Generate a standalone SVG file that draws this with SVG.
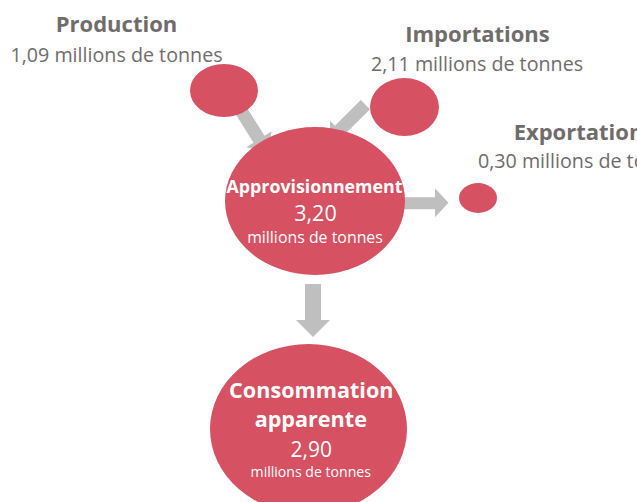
<svg xmlns="http://www.w3.org/2000/svg" width="637" height="502" viewBox="0 0 637 502">
  <style>
    .bubble { fill: #d65161; }
    .flow { fill: #bfbfbf; }
    .title { font-family: "Open Sans", "Liberation Sans", sans-serif; font-weight: 700; fill: #706c6c; font-size: 22px; text-anchor: middle; }
    .amount { font-family: "Open Sans", "Liberation Sans", sans-serif; fill: #706c6c; font-size: 19.7px; text-anchor: middle; }
    .inbold { font-family: "Open Sans", "Liberation Sans", sans-serif; font-weight: 700; fill: #ffffff; text-anchor: middle; }
    .innum { font-family: "Open Sans", "Liberation Sans", sans-serif; fill: #ffffff; text-anchor: middle; }
  </style>
  <rect width="637" height="502" fill="#ffffff"/>

  <!-- flow arrows, drawn first so the bubbles sit on top of their tails -->
  <g id="connectors">
    <polygon class="flow" transform="translate(267,152) rotate(58)" points="-56,-6.5 -15,-6.5 -15,-15 0,0 -15,15 -15,6.5 -56,6.5"/>
    <polygon class="flow" transform="translate(330,140) rotate(135)" points="-50,-6.5 -13.5,-6.5 -13.5,-13.5 0,0 -13.5,13.5 -13.5,6.5 -50,6.5"/>
    <polygon class="flow" points="400,197.3 435,197.3 435,188.3 448.5,202.8 435,217.3 435,209.3 400,209.3"/>
    <polygon class="flow" points="305,284 321,284 321,320 330,320 313,337 296,320 305,320"/>
  </g>

  <g id="production">
    <ellipse class="bubble" cx="224" cy="90.5" rx="34" ry="26.5"/>
    <text class="title" x="116.5" y="32">Production</text>
    <text class="amount" x="116.5" y="61.5">1,09 millions de tonnes</text>
  </g>

  <g id="importations">
    <ellipse class="bubble" cx="404.5" cy="107" rx="34.5" ry="29"/>
    <text class="title" x="477.5" y="41.5">Importations</text>
    <text class="amount" x="477" y="70.5">2,11 millions de tonnes</text>
  </g>

  <g id="exportations">
    <ellipse class="bubble" cx="478" cy="198" rx="19" ry="15"/>
    <text class="title" x="584" y="140">Exportations</text>
    <text class="amount" x="584" y="168">0,30 millions de tonnes</text>
  </g>

  <g id="approvisionnement">
    <ellipse class="bubble" cx="315" cy="201" rx="90" ry="74"/>
    <text class="inbold" x="314.5" y="193.3" font-size="17.8">Approvisionnement</text>
    <text class="innum" x="315.5" y="220.7" font-size="21.5">3,20</text>
    <text class="innum" x="315" y="243.3" font-size="15.9">millions de tonnes</text>
  </g>

  <g id="consommation">
    <ellipse class="bubble" cx="308.5" cy="429" rx="98.5" ry="85"/>
    <text class="inbold" x="311.3" y="398.3" font-size="21.6">Consommation</text>
    <text class="inbold" x="310.8" y="426.7" font-size="21.6">apparente</text>
    <text class="innum" x="311.2" y="456.7" font-size="21">2,90</text>
    <text class="innum" x="310.8" y="476.7" font-size="14.1">millions de tonnes</text>
  </g>
</svg>
